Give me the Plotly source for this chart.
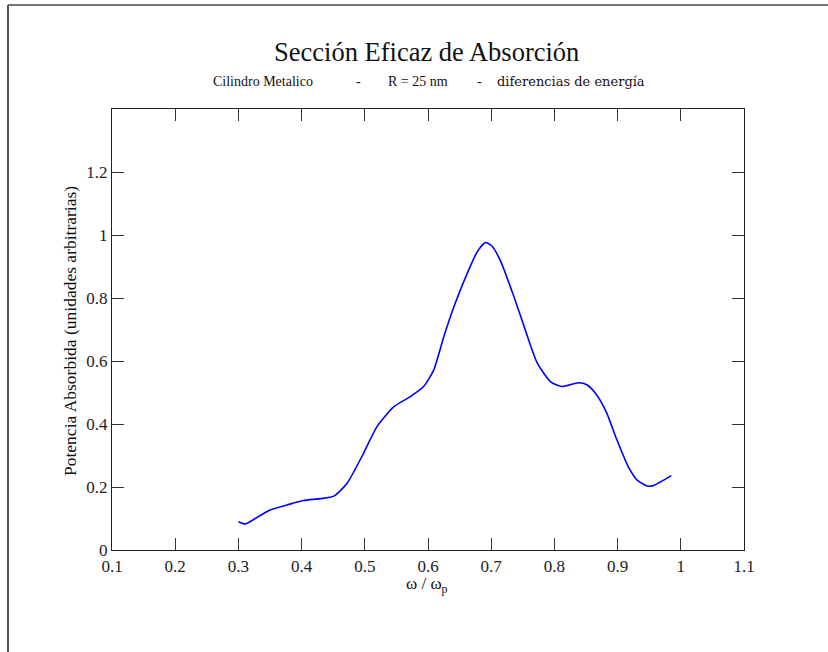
import plotly.graph_objects as go

# Absorption cross-section of a metallic cylinder (R = 25 nm), energy-difference model
omega = [0.300, 0.311, 0.330, 0.350, 0.377, 0.403, 0.430, 0.451, 0.472, 0.498,
         0.519, 0.546, 0.572, 0.593, 0.609, 0.625, 0.641, 0.662, 0.678, 0.691,
         0.701, 0.714, 0.736, 0.754, 0.773, 0.794, 0.812, 0.838, 0.852, 0.867,
         0.883, 0.899, 0.917, 0.931, 0.947, 0.957, 0.985]
power = [0.090, 0.083, 0.104, 0.127, 0.143, 0.157, 0.163, 0.171, 0.212, 0.307,
         0.391, 0.455, 0.487, 0.519, 0.571, 0.677, 0.772, 0.878, 0.947, 0.976,
         0.965, 0.921, 0.804, 0.698, 0.593, 0.534, 0.519, 0.531, 0.524, 0.492,
         0.434, 0.349, 0.264, 0.222, 0.203, 0.205, 0.236]

x_ticks = [0.1, 0.2, 0.3, 0.4, 0.5, 0.6, 0.7, 0.8, 0.9, 1.0, 1.1]
x_tick_labels = ["0.1", "0.2", "0.3", "0.4", "0.5", "0.6", "0.7", "0.8", "0.9", "1", "1.1"]
y_ticks = [0, 0.2, 0.4, 0.6, 0.8, 1.0, 1.2, 1.4]
y_tick_labels = ["0", "0.2", "0.4", "0.6", "0.8", "1", "1.2", ""]

W, H = 828, 652
L, R, T, B = 112, 84, 109, 102
PW, PH = W - L - R, H - T - B


def px(x):
    return (x - L) / PW


def py(y):
    return (H - B - y) / PH


serif = "Liberation Serif"

fig = go.Figure()
fig.add_trace(go.Scatter(x=omega, y=power, mode="lines",
                         line=dict(color="#0000ff", width=1.6, shape="spline", smoothing=0.6),
                         showlegend=False, hoverinfo="skip"))

axis_common = dict(showline=True, linecolor="#222222", linewidth=1.3, mirror="ticks",
                   ticks="inside", ticklen=12, tickwidth=1.2, tickcolor="#333333",
                   showgrid=False, zeroline=False,
                   tickfont=dict(family=serif, size=17, color="#222222"))

fig.update_xaxes(range=[0.1, 1.1], tickvals=x_ticks, ticktext=x_tick_labels, **axis_common)
fig.update_yaxes(range=[0, 1.4], tickvals=y_ticks, ticktext=y_tick_labels, **axis_common)

annotations = [
    dict(text="Sección Eficaz de Absorción", x=px(426), y=py(52), font=dict(family=serif, size=26.5, color="#111111")),
    dict(text="Cilindro Metalico", x=px(263), y=py(82), font=dict(family=serif, size=14, color="#111111")),
    dict(text="-", x=px(358), y=py(82), font=dict(family=serif, size=14, color="#111111")),
    dict(text="R = 25 nm", x=px(418), y=py(82), font=dict(family=serif, size=14, color="#111111")),
    dict(text="-", x=px(479), y=py(82), font=dict(family=serif, size=14, color="#111111")),
    dict(text="diferencias de energía", x=px(571), y=py(82), font=dict(family="DejaVu Serif", size=13, color="#1a1008")),
    dict(text="ω / ω<sub>p</sub>", x=px(427), y=py(585), font=dict(family=serif, size=17, color="#111111")),
    dict(text="Potencia Absorbida (unidades arbitrarias)", x=px(70), y=py(331), textangle=-90,
         font=dict(family=serif, size=17.5, color="#111111")),
]
for a in annotations:
    a.update(xref="paper", yref="paper", showarrow=False, xanchor="center", yanchor="middle")

fig.update_layout(
    width=W, height=H,
    margin=dict(l=L, r=R, t=T, b=B),
    paper_bgcolor="white", plot_bgcolor="white",
    annotations=annotations,
    shapes=[
        dict(type="line", xref="paper", yref="paper", x0=px(8), x1=px(W + 5), y0=py(5), y1=py(5),
             line=dict(color="#777777", width=2)),
        dict(type="line", xref="paper", yref="paper", x0=px(8), x1=px(8), y0=py(5), y1=py(H + 5),
             line=dict(color="#555555", width=2)),
    ],
)

fig.write_html("out.html")
